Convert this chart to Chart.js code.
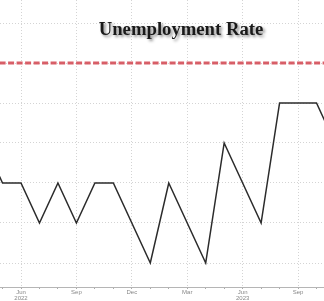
<!doctype html>
<html lang="en">
<head>
<meta charset="UTF-8">
<title>Unemployment Rate</title>
<style>
    * { margin: 0; padding: 0; box-sizing: border-box; }
    body { background: #fff; }
    #wrap { position: relative; width: 324px; height: 301px; }
</style>
</head>
<body>
<div id="wrap"><canvas id="myChart"></canvas></div>

<script src="https://cdn.jsdelivr.net/npm/chart.js"></script>
<script>
    // month index: Jan 2022 = 0
    const firstMonth = 2; // Mar 2022
    const rates = [3.6, 3.7, 3.6, 3.6, 3.5, 3.6, 3.5, 3.6, 3.6, 3.5,
                   3.4, 3.6, 3.5, 3.4, 3.7, 3.6, 3.5, 3.8, 3.8, 3.8, 3.7];
    const refLevel = 3.9;

    const tickMonths = [5, 8, 11, 14, 17, 20];
    const tickLabels = [['Jun', '2022'], 'Sep', 'Dec', 'Mar', ['Jun', '2023'], 'Sep'];
    const gridLevels = [3.4, 3.5, 3.6, 3.7, 3.8, 3.9, 4.0];

    const points = rates.map((v, i) => ({x: firstMonth + i, y: v}));
    const refPoints = [{x: firstMonth, y: refLevel}, {x: firstMonth + rates.length, y: refLevel}];

    const titlePlugin = {
        id: 'bigTitle',
        afterDraw(chart) {
            const ctx = chart.ctx;
            ctx.save();
            ctx.font = 'bold 18.7px "Liberation Serif", "DejaVu Serif", serif';
            ctx.textAlign = 'center';
            ctx.textBaseline = 'middle';
            ctx.shadowColor = 'rgba(0,0,0,0.45)';
            ctx.shadowOffsetX = 2;
            ctx.shadowOffsetY = 2;
            ctx.shadowBlur = 3;
            ctx.fillStyle = '#1a1a1a';
            ctx.fillText('Unemployment Rate', 181, 30);
            ctx.restore();
        }
    };

    const config = {
        type: 'line',
        data: {
            datasets: [{
                label: 'Unemployment Rate',
                data: points,
                borderColor: '#2b2b2b',
                borderWidth: 1.5,
                pointRadius: 0,
                tension: 0
            }, {
                label: 'Reference',
                data: refPoints,
                borderColor: 'rgba(212,78,88,0.9)',
                borderWidth: 3,
                borderDash: [6, 2.5],
                pointRadius: 0
            }]
        },
        options: {
            responsive: false,
            animation: false,
            layout: {padding: 0},
            plugins: {legend: {display: false}, tooltip: {enabled: false}},
            scales: {
                x: {
                    type: 'linear',
                    min: 3.863,
                    max: 21.405,
                    afterBuildTicks(scale) {
                        const t = [];
                        for (let m = 4; m <= 21; m++) t.push({value: m});
                        scale.ticks = t;
                    },
                    afterFit(scale) { scale.height = 14; },
                    ticks: {
                        autoSkip: false,
                        maxRotation: 0,
                        padding: 0,
                        color: '#888',
                        font: {size: 6, family: 'Arial, "Liberation Sans", sans-serif', lineHeight: 1},
                        callback(value) {
                            const i = tickMonths.indexOf(value);
                            return i >= 0 ? tickLabels[i] : '';
                        }
                    },
                    grid: {
                        color: (c) => tickMonths.includes(c.tick && c.tick.value) ? '#d4d4d4' : 'transparent',
                        tickColor: '#aaa',
                        tickLength: 2,
                        lineWidth: 1
                    },
                    border: {display: true, color: '#b5b5b5', width: 1, dash: [1, 2]}
                },
                y: {
                    min: 3.34,
                    max: 4.0575,
                    afterBuildTicks(scale) {
                        scale.ticks = gridLevels.map(v => ({value: v}));
                    },
                    afterFit(scale) { scale.width = 0; },
                    ticks: {display: false},
                    grid: {color: '#d4d4d4', drawTicks: false, lineWidth: 1},
                    border: {display: false, dash: [1, 2]}
                }
            }
        },
        plugins: [titlePlugin]
    };

    const canvas = document.getElementById('myChart');
    canvas.width = 324;
    canvas.height = 301;
    const myChart = new Chart(canvas, config);
</script>
</body>
</html>
